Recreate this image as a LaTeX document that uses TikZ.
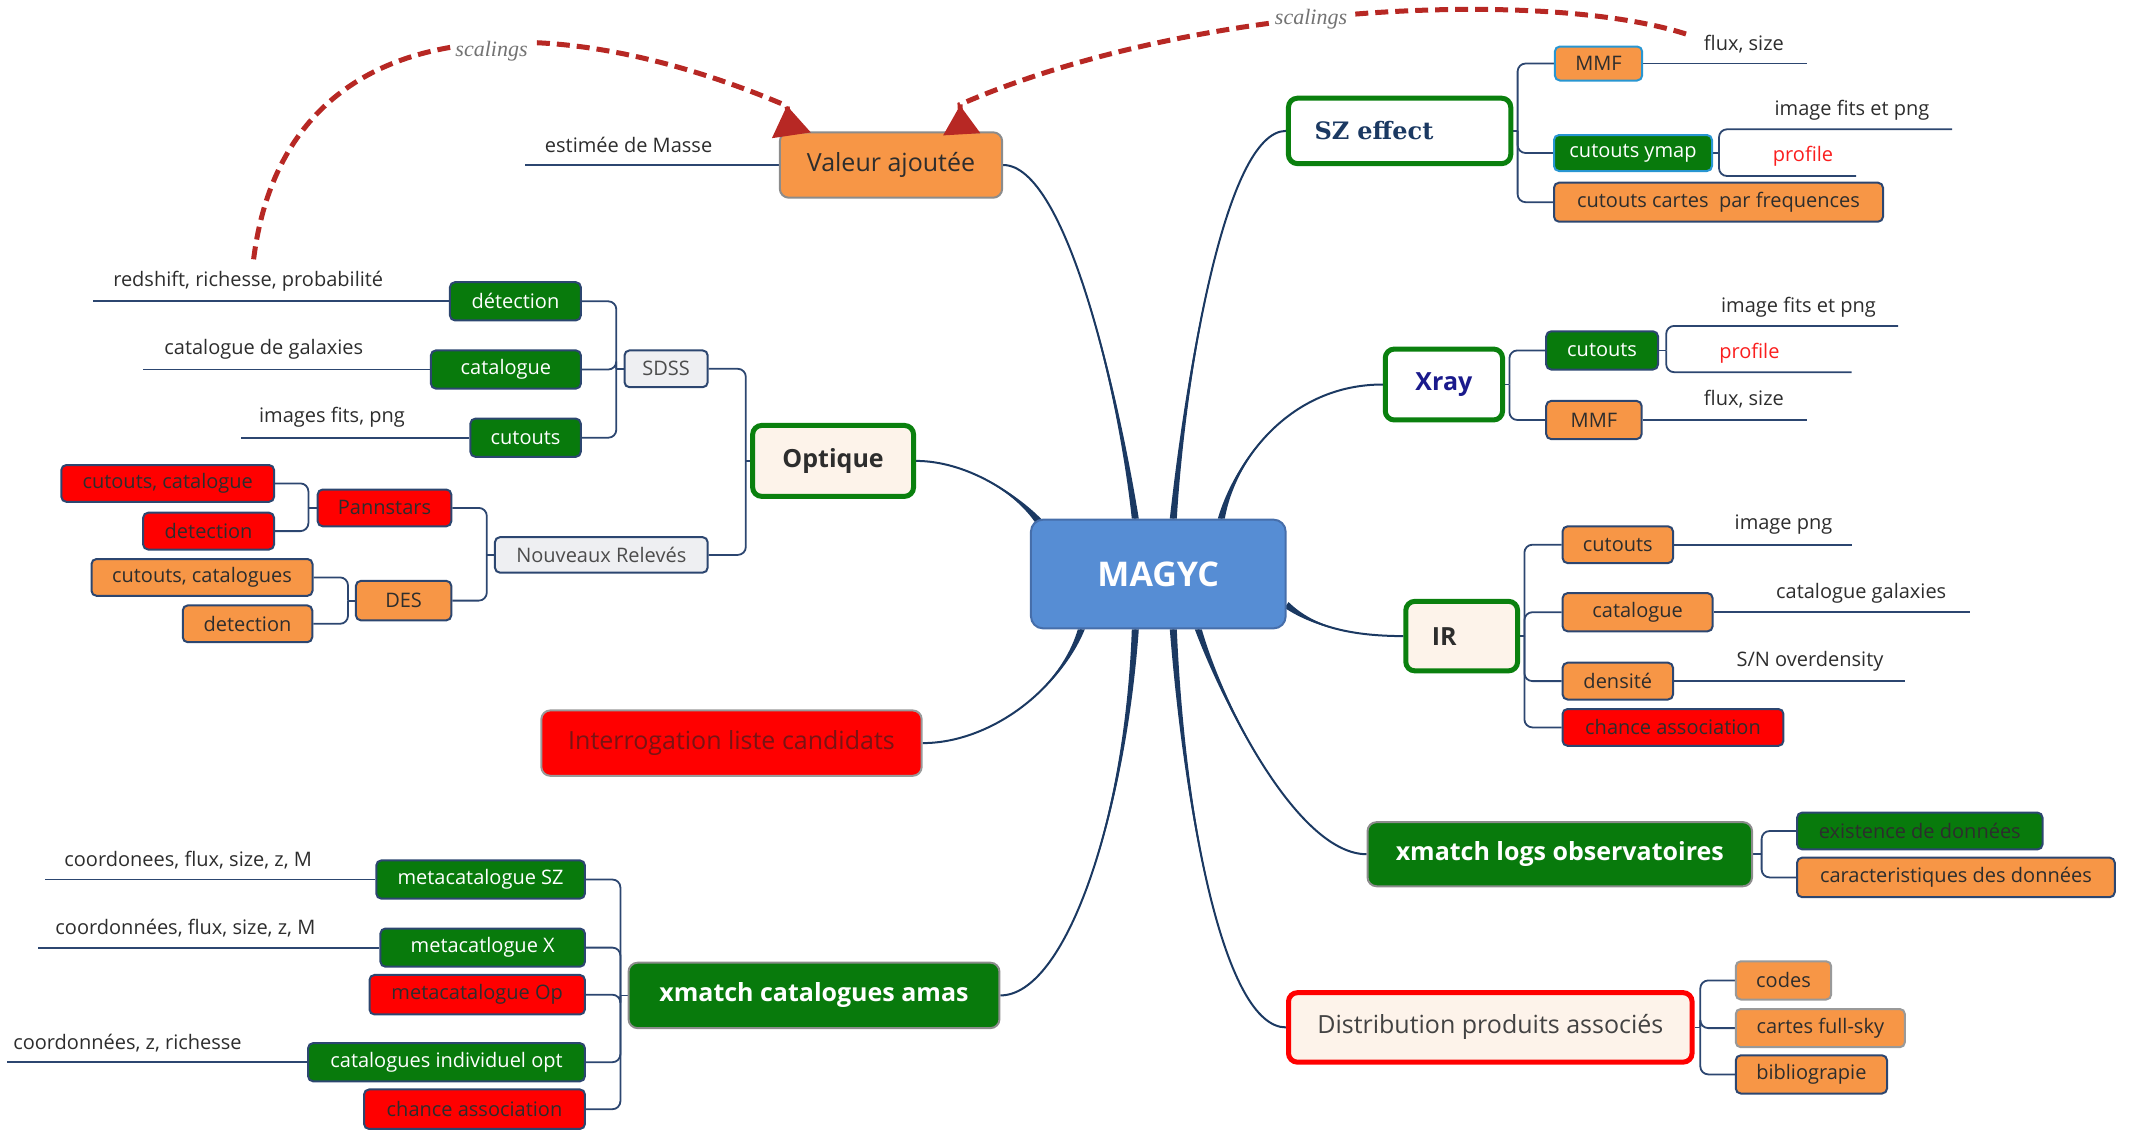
\documentclass[tikz,border=0pt]{standalone}
\usepackage{fontspec}
\setmainfont{Open Sans}
\newfontfamily\titleserif{DejaVu Serif}
\newfontfamily\noteserif{Liberation Serif}
\usetikzlibrary{arrows.meta,calc}

\definecolor{navy}{RGB}{27,57,98}
\definecolor{brc}{RGB}{44,70,112}
\definecolor{orng}{RGB}{247,150,70}
\definecolor{grn}{RGB}{8,122,12}
\definecolor{gborder}{RGB}{10,128,14}
\definecolor{rd}{RGB}{255,0,0}
\definecolor{cream}{RGB}{253,243,234}
\definecolor{pale}{RGB}{238,239,242}
\definecolor{core}{RGB}{86,141,212}
\definecolor{coreb}{RGB}{70,110,170}
\definecolor{scal}{RGB}{183,40,36}
\definecolor{ink}{RGB}{45,45,45}
\definecolor{lightblue}{RGB}{40,150,210}
\definecolor{xblue}{RGB}{26,26,140}
\definecolor{darkred}{RGB}{120,20,20}
\definecolor{profred}{RGB}{250,30,30}

\pgfdeclarelayer{bg}
\pgfsetlayers{bg,main}

% tapered main branch: root, control 1, control 2, end, half-width offset at the root
\newcommand\limb[5]{%
  \fill[navy] ($(#1)+#5$) .. controls #2 and #3 .. (#4) .. controls #3 and #2 .. ($(#1)-#5$) -- cycle;
  \draw[navy,line width=1pt] (#1) .. controls #2 and #3 .. (#4);}

\begin{document}
\begin{tikzpicture}[x=0.5pt,y=-0.5pt,
  wh/.style 2 args={minimum width=#1*0.5pt,minimum height=#2*0.5pt},
  leafbox/.style={draw=brc,line width=1pt,rounded corners=2.5pt,inner sep=0pt,
    font=\fontsize{10}{12}\selectfont,text=ink},
  obox/.style={leafbox,fill=orng},
  gbox/.style={leafbox,fill=grn,text=white},
  rbox/.style={leafbox,fill=rd},
  pbox/.style={leafbox,fill=pale,text=ink!85},
  topic/.style={rounded corners=4.5pt,inner sep=0pt,font=\fontsize{12.5}{15}\selectfont},
  gtopic/.style={topic,draw=gborder,line width=2.5pt,font=\fontsize{12.5}{15}\selectfont\bfseries},
  note/.style={font=\fontsize{10}{12}\selectfont,text=ink,inner sep=1pt},
  branch/.style={draw=brc,line width=0.9pt,rounded corners=4pt},
  scaling/.style={draw=scal,line width=2.5pt,dash pattern=on 6.5pt off 3.5pt},
  scallabel/.style={font=\noteserif\itshape\fontsize{11}{13}\selectfont,text=black!55,fill=white,inner sep=1pt}
]
\useasboundingbox (0,0) rectangle (2138,1131);

% ---------- central topic ----------
\node[draw=coreb,fill=core,rounded corners=6pt,line width=1pt,wh={254.7}{108.7},
  font=\fontsize{17}{20}\selectfont\bfseries,text=white] (magyc) at (1158.3,574) {MAGYC};

% ---------- main topics ----------
\node[topic,draw=black!45,line width=1pt,fill=orng,text=ink,wh={222.3}{65.4}] (val) at (891,165) {Valeur ajoutée};
\node[topic,fill=white,draw=gborder,line width=2.5pt,wh={222.3}{65.4},inner xsep=13pt,text width=85pt,align=left,
  font=\titleserif\bfseries\fontsize{12}{14}\selectfont,text=navy] (sz) at (1399.6,130.9) {SZ effect};
\node[gtopic,fill=white,text=xblue,wh={117.3}{70.9}] (xray) at (1443.9,384.5) {Xray};
\node[gtopic,fill=cream,text=ink,wh={111.8}{69.5},inner xsep=13pt,text width=29.9pt,align=left] (ir) at (1461.7,636.1) {IR};
\node[topic,fill=grn,draw=black!45,line width=1pt,text=white,font=\fontsize{12.5}{15}\selectfont\bfseries,
  wh={384.5}{64.1}] (logs) at (1559.8,854.2) {xmatch logs observatoires};
\node[topic,fill=cream,draw=rd,line width=2.5pt,text=ink!90,wh={403.6}{69.5}] (dist) at (1490.3,1027.4) {Distribution produits associés};
\node[gtopic,fill=cream,text=ink,wh={160.9}{70.9}] (opt) at (833.1,460.9) {Optique};
\node[topic,fill=rd,draw=black!40,line width=1pt,text=darkred,wh={380.4}{65.4}] (cand) at (731.5,743.1) {Interrogation liste candidats};
\node[topic,fill=grn,draw=black!45,line width=1pt,text=white,font=\fontsize{12.5}{15}\selectfont\bfseries,
  wh={370.9}{65.4}] (amas) at (814,995.4) {xmatch catalogues amas};

% ---------- Valeur ajoutée ----------
\node[note] (nMasse) at (628.6,144.5) {estimée de Masse};
\coordinate (eMasse) at (525,165);

% ---------- SZ effect ----------
\node[obox,draw=lightblue,wh={87.3}{34}] (szmmf) at (1598.5,63.5) {MMF};
\node[gbox,draw=lightblue,wh={158}{36}] (szcut) at (1633,153) {cutouts ymap};
\node[obox,wh={329}{39}] (szcar) at (1718.5,202.2) {cutouts cartes\ \ par frequences};
\coordinate (szB) at (1517.6,130.9);
\node[note] (szflux) at (1743.9,44) {flux, size};
\coordinate (szfluxE) at (1807,63.5);
\coordinate (szcutB) at (1719,153);
\node[note] (szimg) at (1852,110.7) {image fits et png};
\coordinate (szimgE) at (1952,129.3);
\node[note,text=profred] (szpro) at (1803,156.7) {profile};
\coordinate (szproE) at (1856,176);

% ---------- Xray ----------
\node[gbox,wh={111.8}{38.2}] (xcut) at (1602.1,350.4) {cutouts};
\node[obox,wh={95.4}{38.2}] (xmmf) at (1593.9,420) {MMF};
\coordinate (xB) at (1509.4,384.5);
\coordinate (xcutB) at (1666.2,350.4);
\node[note] (ximg) at (1798.5,306.8) {image fits et png};
\coordinate (ximgE) at (1898,325.9);
\node[note,text=profred] (xpro) at (1749.4,353.1) {profile};
\coordinate (xproE) at (1851.6,372.2);
\node[note] (xflux) at (1743.9,399.5) {flux, size};
\coordinate (xfluxE) at (1806.6,420);

% ---------- IR ----------
\coordinate (irB) at (1524.4,636.1);
\node[obox,wh={110.4}{36.8}] (ircut) at (1617.8,544.7) {cutouts};
\node[obox,wh={150}{38.2}] (ircat) at (1637.6,612.2) {catalogue};
\node[obox,wh={110.4}{36.8}] (irden) at (1617.8,681.1) {densité};
\node[rbox,wh={220.9}{36.8}] (irch) at (1673,727.4) {chance association};
\node[note] (irpng) at (1783.5,525) {image png};
\coordinate (irpngE) at (1851.6,544.7);
\node[note] (irgal) at (1861.2,593.1) {catalogue galaxies};
\coordinate (irgalE) at (1970.3,612.2);
\node[note] (irsn) at (1810,661.3) {S/N overdensity};
\coordinate (irsnE) at (1904.8,681.1);

% ---------- xmatch logs ----------
\coordinate (logB) at (1761.6,854.2);
\node[gbox,text=ink,wh={245.4}{36.8}] (lexi) at (1919.8,831) {existence de données};
\node[obox,wh={317.7}{39.5}] (lcar) at (1955.9,877.4) {caracteristiques des données};

% ---------- Distribution ----------
\coordinate (distB) at (1700.3,1027.4);
\node[obox,draw=black!40,wh={95.4}{38.2}] (dcod) at (1783.5,980.4) {codes};
\node[obox,draw=black!40,wh={169.1}{38.2}] (dcar) at (1820.3,1028.1) {cartes full-sky};
\node[obox,wh={151.3}{38.2}] (dbib) at (1811.4,1074.4) {bibliograpie};

% ---------- Optique ----------
\coordinate (optB) at (745.8,460.9);
\node[pbox,wh={83.2}{36.8}] (sdss) at (666.1,368.8) {SDSS};
\node[pbox,wh={212.7}{35.5}] (nouv) at (601.3,554.9) {Nouveaux Relevés};
\coordinate (sdssB) at (616.3,368.8);
\node[gbox,wh={130.9}{38.2}] (sdet) at (515.4,301.3) {détection};
\node[gbox,wh={150}{38.2}] (scat) at (505.9,369.5) {catalogue};
\node[gbox,wh={110.4}{38.2}] (scut) at (525.6,437.7) {cutouts};
\node[note] (nRed) at (248.2,280.9) {redshift, richesse, probabilité};
\coordinate (eRed) at (92.7,301.3);
\node[note] (nGal) at (263.8,349.1) {catalogue de galaxies};
\coordinate (eGal) at (143.2,369.5);
\node[note] (nImg) at (332,417.2) {images fits, png};
\coordinate (eImg) at (241.3,437.7);
\coordinate (nouvB) at (486.8,554.9);
\node[rbox,wh={133.6}{36.8}] (pann) at (384.5,507.9) {Pannstars};
\node[obox,wh={95.4}{39.5}] (des) at (403.6,600.6) {DES};
\coordinate (pannB) at (308.4,507.9);
\node[rbox,wh={212.7}{36.8}] (pcut) at (167.7,483.4) {cutouts, catalogue};
\node[rbox,wh={130.9}{36.8}] (pdet) at (208.6,531.1) {detection};
\coordinate (desB) at (348,600.6);
\node[obox,wh={221}{36.8}] (dcut) at (202,577.4) {cutouts, catalogues};
\node[obox,wh={129.5}{36.8}] (ddet) at (247.5,623.8) {detection};

% ---------- xmatch catalogues amas ----------
\coordinate (amasB) at (620.4,995.4);
\node[gbox,wh={208.6}{38.2}] (msz) at (480.6,879.5) {metacatalogue SZ};
\node[gbox,wh={204.5}{38.2}] (mx) at (482.7,947.6) {metacatlogue X};
\node[rbox,wh={215.4}{39.5}] (mop) at (477.2,994.7) {metacatalogue Op};
\node[gbox,wh={276.8}{38.2}] (mind) at (446.5,1062.2) {catalogues individuel opt};
\node[rbox,wh={220.9}{39.5}] (mch) at (474.5,1109.2) {chance association};
\node[note] (nSZ) at (188.2,860.4) {coordonees, flux, size, z, M};
\coordinate (eSZ) at (45,879.5);
\node[note] (nX) at (185.4,928.5) {coordonnées, flux, size, z, M};
\coordinate (eX) at (38.2,947.6);
\node[note] (nInd) at (127.5,1043.1) {coordonnées, z, richesse};
\coordinate (eInd) at (6.8,1062.2);

% ---------- connectors ----------
\begin{pgfonlayer}{bg}
  % main branches from the central topic
  \coordinate (rVal) at ($(magyc.north)+(-23,0)$);
  \coordinate (rSz) at ($(magyc.north)+(15,0)$);
  \coordinate (rX) at ($(magyc.north)+(63,0)$);
  \coordinate (rOpt) at ($(magyc.north west)+(9,3)$);
  \coordinate (rIR) at ($(magyc.east)+(0,31)$);
  \coordinate (rCand) at ($(magyc.south)+(-77,0)$);
  \coordinate (rAmas) at ($(magyc.south)+(-23,0)$);
  \coordinate (rDist) at ($(magyc.south)+(15,0)$);
  \coordinate (rLogs) at ($(magyc.south)+(40,0)$);
  \limb{rVal}{(1118,390)}{(1065,165)}{val.east}{(3.5,0)}
  \limb{rSz}{(1185,380)}{(1225,131)}{sz.west}{(3.5,0)}
  \limb{rX}{(1235,460)}{(1290,384.5)}{xray.west}{(3.5,0)}
  \limb{rOpt}{(1015,492)}{(965,461)}{opt.east}{(2.8,-2.2)}
  \limb{rIR}{(1315,628)}{(1355,636)}{ir.west}{(-1.8,3)}
  \limb{rCand}{(1060,690)}{(990,743)}{cand.east}{(3.5,0)}
  \limb{rAmas}{(1125,820)}{(1065,995.4)}{amas.east}{(3.5,0)}
  \limb{rDist}{(1185,820)}{(1225,1027.4)}{dist.west}{(3.5,0)}
  \limb{rLogs}{(1225,710)}{(1300,854.2)}{logs.west}{(3.5,0)}

  % Valeur ajoutée
  \draw[branch] (val.west) -- (eMasse);

  % SZ effect
  \draw[branch] (sz.east) -- (szB);
  \draw[branch] (szB) |- (szmmf.west);
  \draw[branch] (szB) |- (szcut.west);
  \draw[branch] (szB) |- (szcar.west);
  \draw[branch] (szmmf.east) -- (szfluxE);
  \draw[branch] (szcut.east) -- (szcutB);
  \draw[branch] (szcutB) |- (szimgE);
  \draw[branch] (szcutB) |- (szproE);

  % Xray
  \draw[branch] (xray.east) -- (xB);
  \draw[branch] (xB) |- (xcut.west);
  \draw[branch] (xB) |- (xmmf.west);
  \draw[branch] (xcut.east) -- (xcutB);
  \draw[branch] (xcutB) |- (ximgE);
  \draw[branch] (xcutB) |- (xproE);
  \draw[branch] (xmmf.east) -- (xfluxE);

  % IR
  \draw[branch] (ir.east) -- (irB);
  \draw[branch] (irB) |- (ircut.west);
  \draw[branch] (irB) |- (ircat.west);
  \draw[branch] (irB) |- (irden.west);
  \draw[branch] (irB) |- (irch.west);
  \draw[branch] (ircut.east) -- (irpngE);
  \draw[branch] (ircat.east) -- (irgalE);
  \draw[branch] (irden.east) -- (irsnE);

  % xmatch logs
  \draw[branch] (logs.east) -- (logB);
  \draw[branch] (logB) |- (lexi.west);
  \draw[branch] (logB) |- (lcar.west);

  % Distribution
  \draw[branch] (dist.east) -- (distB);
  \draw[branch] (distB) |- (dcod.west);
  \draw[branch] (distB) |- (dcar.west);
  \draw[branch] (distB) |- (dbib.west);

  % Optique
  \draw[branch] (opt.west) -- (optB);
  \draw[branch] (optB) |- (sdss.east);
  \draw[branch] (optB) |- (nouv.east);
  \draw[branch] (sdss.west) -- (sdssB);
  \draw[branch] (sdssB) |- (sdet.east);
  \draw[branch] (sdssB) |- (scat.east);
  \draw[branch] (sdssB) |- (scut.east);
  \draw[branch] (sdet.west) -- (eRed);
  \draw[branch] (scat.west) -- (eGal);
  \draw[branch] (scut.west) -- (eImg);
  \draw[branch] (nouv.west) -- (nouvB);
  \draw[branch] (nouvB) |- (pann.east);
  \draw[branch] (nouvB) |- (des.east);
  \draw[branch] (pann.west) -- (pannB);
  \draw[branch] (pannB) |- (pcut.east);
  \draw[branch] (pannB) |- (pdet.east);
  \draw[branch] (des.west) -- (desB);
  \draw[branch] (desB) |- (dcut.east);
  \draw[branch] (desB) |- (ddet.east);

  % xmatch catalogues amas
  \draw[branch] (amas.west) -- (amasB);
  \draw[branch] (amasB) |- (msz.east);
  \draw[branch] (amasB) |- (mx.east);
  \draw[branch] (amasB) |- (mop.east);
  \draw[branch] (amasB) |- (mind.east);
  \draw[branch] (amasB) |- (mch.east);
  \draw[branch] (msz.west) -- (eSZ);
  \draw[branch] (mx.west) -- (eX);
  \draw[branch] (mind.west) -- (eInd);
\end{pgfonlayer}

% ---------- scaling relations ----------
\coordinate (scalA) at (253.6,259.3);
\coordinate (apexA) at (787,106);
\coordinate (tipA) at ($(val.north west)+(12.5,4)$);
\draw[scaling,-{Triangle[reversed,length=15pt,width=19pt]}]
  (scalA) .. controls (285,10) and (540,0) .. (apexA) -- (tipA);
\node[scallabel] (lblA) at (491.5,51) {scalings};

\coordinate (scalB) at (1686,34);
\coordinate (apexB) at (960,104.5);
\coordinate (tipB) at ($(val.north east)+(-41.4,3)$);
\draw[scaling,-{Triangle[reversed,length=14.5pt,width=18pt]}]
  (scalB) .. controls (1550,-10) and (1200,0) .. (apexB) -- (tipB);
\node[scallabel] (lblB) at (1311,19) {scalings};
\end{tikzpicture}
\end{document}
